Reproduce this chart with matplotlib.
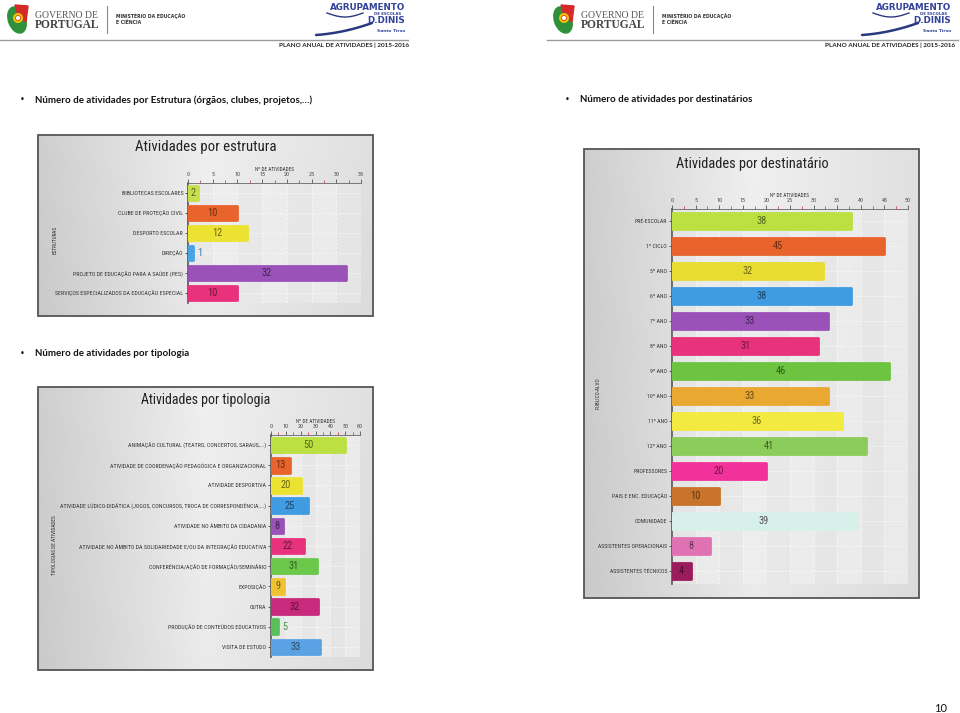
import numpy as np
import matplotlib
matplotlib.use("Agg")
import matplotlib.pyplot as plt
from matplotlib import font_manager
from matplotlib.patches import Rectangle, Ellipse, Circle, Polygon
from matplotlib.colors import to_rgb

W, H = 960, 713

# ---- data ----
estrutura_cats = ["BIBLIOTECAS ESCOLARES", "CLUBE DE PROTEÇÃO CIVIL", "DESPORTO ESCOLAR", "DIREÇÃO",
                  "PROJETO DE EDUCAÇÃO PARA A SAÚDE (PES)",
                  "SERVIÇOS ESPECIALIZADOS DA EDUCAÇÃO ESPECIAL"]
estrutura_vals = [2, 10, 12, 1, 32, 10]
estrutura_colors = ["#c6df4c", "#e8642c", "#ece232", "#4aa3e2", "#9a52b8", "#e8327c"]

tipologia_cats = ["ANIMAÇÃO CULTURAL (TEATRO, CONCERTOS, SARAUS,...)",
                  "ATIVIDADE DE COORDENAÇÃO PEDAGÓGICA E ORGANIZACIONAL",
                  "ATIVIDADE DESPORTIVA",
                  "ATIVIDADE LÚDICO-DIDÁTICA (JOGOS, CONCURSOS, TROCA DE CORRESPONDÊNCIA,...)",
                  "ATIVIDADE NO ÂMBITO DA CIDADANIA",
                  "ATIVIDADE NO ÂMBITO DA SOLIDARIEDADE E/OU DA INTEGRAÇÃO EDUCATIVA",
                  "CONFERÊNCIA/AÇÃO DE FORMAÇÃO/SEMINÁRIO",
                  "EXPOSIÇÃO", "OUTRA", "PRODUÇÃO DE CONTEÚDOS EDUCATIVOS", "VISITA DE ESTUDO"]
tipologia_vals = [50, 13, 20, 25, 8, 22, 31, 9, 32, 5, 33]
tipologia_colors = ["#bce042", "#e8642c", "#ece232", "#3f9be2", "#9a52b8", "#e8327c",
                    "#6cc84a", "#f0c232", "#c82a7c", "#58c05a", "#5aa2e4"]

destinatario_cats = ["PRÉ-ESCOLAR", "1º CICLO", "5º ANO", "6º ANO", "7º ANO", "8º ANO", "9º ANO",
                     "10º ANO", "11º ANO", "12º ANO", "PROFESSORES", "PAIS E ENC. EDUCAÇÃO",
                     "COMUNIDADE", "ASSISTENTES OPERACIONAIS", "ASSISTENTES TÉCNICOS"]
destinatario_vals = [38, 45, 32, 38, 33, 31, 46, 33, 36, 41, 20, 10, 39, 8, 4]
destinatario_colors = ["#bce042", "#e8642c", "#e8dc30", "#3f9be2", "#9a52b8", "#e8327c",
                       "#6cc440", "#eaa832", "#f2ea40", "#8ccc5a", "#f0329a", "#c8742a",
                       "#d8f0ea", "#e072b4", "#9a1c5c"]

# pick the narrowest family we actually have
installed = {f.name for f in font_manager.fontManager.ttflist}
condensed = sorted({f.name for f in font_manager.fontManager.ttflist
                    if "condensed" in str(f.stretch).lower() or "narrow" in f.name.lower()
                    or "condensed" in f.name.lower()})
pref = ["Liberation Sans Narrow", "DejaVu Sans Condensed", "Roboto Condensed",
        "Open Sans Condensed"] + condensed + ["Roboto", "Liberation Sans", "DejaVu Sans"]
NARROW_NAME = next(n for n in pref if n in installed)
NARROW = [NARROW_NAME, "DejaVu Sans"]
BODY = ["Lato", "DejaVu Sans"]

fig = plt.figure(figsize=(9.6, 7.13), dpi=100)
page = fig.add_axes([0, 0, 1, 1])
page.axis("off")
renderer = fig.canvas.get_renderer()


def px_rect(x0, y0, x1, y1):
    return [x0 / W, 1 - y1 / H, (x1 - x0) / W, (y1 - y0) / H]


def darker(c, f=0.5):
    r, g, b = to_rgb(c)
    return (r * f, g * f, b * f)


def fit_width(t, target, max_size):
    w = t.get_window_extent(renderer).width
    t.set_fontsize(min(max_size, t.get_fontsize() * target / w))


def header(dx, line_x0, line_x1, plano_right):
    # emblem
    page.add_patch(Ellipse((17 + dx, 20), 17, 27, angle=-20, color="#2f8f3a", zorder=2))
    page.add_patch(Polygon([(15 + dx, 5), (28 + dx, 6), (26 + dx, 22), (18 + dx, 15)],
                           color="#d42a2a", zorder=3))
    page.add_patch(Circle((18 + dx, 18), 5, fc="#f4c300", zorder=4))
    page.add_patch(Circle((18 + dx, 18), 2.5, fc="white", ec="#c22", lw=0.5, zorder=5))
    page.text(35 + dx, 15, "GOVERNO DE", family="Liberation Serif", fontsize=7,
              color="#555", va="center")
    page.text(35 + dx, 25, "PORTUGAL", family="Liberation Serif", fontsize=8.3,
              weight="bold", color="#444", va="center")
    page.plot([107 + dx, 107 + dx], [6, 33], color="#888", lw=0.8)
    page.text(116 + dx, 16, "MINISTÉRIO DA EDUCAÇÃO", family="DejaVu Sans", fontsize=3.3,
              weight="bold", color="#333", va="center")
    page.text(116 + dx, 22, "E CIÊNCIA", family="DejaVu Sans", fontsize=3.3,
              weight="bold", color="#333", va="center")
    blue = "#34439a"
    page.text(405 + dx, 7, "AGRUPAMENTO", family="DejaVu Sans", fontsize=6.3,
              weight="bold", color=blue, ha="right", va="center")
    page.text(401 + dx, 14, "DE ESCOLAS", family="DejaVu Sans", fontsize=2.8,
              weight="bold", color=blue, ha="right", va="center")
    page.text(405 + dx, 20.5, "D.DINIS", family="DejaVu Sans", fontsize=6.3,
              weight="bold", color=blue, ha="right", va="center")
    page.text(405 + dx, 31, "Santo Tirso", family="DejaVu Sans", fontsize=3.2,
              weight="bold", color=blue, ha="right", va="center")
    t = np.linspace(0, 1, 40)
    page.plot(316 + dx + 56 * t, 35 - 4 * t - 8 * t ** 2, color="#2a3a80", lw=1.8,
              solid_capstyle="round")
    page.plot(327 + dx + 36 * t, 13 + 4 * np.sin(np.pi * t), color="#2a3a80", lw=1.0)
    page.plot([line_x0, line_x1], [40, 40], color="#9a9a9a", lw=1.0)
    page.text(plano_right, 45, "PLANO ANUAL DE ATIVIDADES | 2015-2016", family=BODY,
              fontsize=4.6, weight="bold", color="#222", ha="right", va="center")


def panel(box):
    x0, y0, x1, y1 = box
    xs = np.linspace(0, 1, 300)
    ys = np.linspace(0, 1, 200)
    g = np.interp(xs, [0, 0.5, 1], [0.79, 0.92, 0.86])[None, :] + 0.02 * (1 - ys)[:, None]
    img = np.dstack([g, g, g])
    page.imshow(img, extent=(x0, x1, y1, y0), aspect="auto", zorder=1, interpolation="bilinear")
    page.add_patch(Rectangle((x0, y0), x1 - x0, y1 - y0, fill=False, ec="#555", lw=1.3, zorder=2))


def chart(box, cats, vals, colors, xmax, major, bar_h, title, title_xy, title_w,
          ylabel, ylabel_xy, label_w):
    ax = fig.add_axes(px_rect(*box))
    n = len(cats)
    y = np.arange(n)
    ax.set_xlim(0, xmax)
    ax.set_ylim(n - 0.5, -0.5)
    ax.set_facecolor((0.91, 0.91, 0.91, 0.75))
    for k in range(1, int(round(xmax / major)), 2):
        ax.axvspan(k * major, (k + 1) * major, color="white", alpha=0.22, zorder=0, lw=0)
    ax.grid(True, ls=(0, (3, 2)), color="#f8f8f8", lw=0.6, zorder=1)
    ax.set_axisbelow(True)

    bars = ax.barh(y, vals, height=bar_h, color=colors, edgecolor=colors, linewidth=2.0, zorder=3)
    for p in bars:
        p.set_joinstyle("round")

    ppu = (box[2] - box[0]) / xmax
    for yi, v, c in zip(y, vals, colors):
        col = "#555" if sum(to_rgb(c)) > 2.6 else darker(c, 0.45)
        if v * ppu < 9:
            ax.text(v + 4 / ppu, yi, str(v), ha="left", va="center", family=NARROW,
                    fontsize=7.5, color=darker(c, 0.75), zorder=4)
        else:
            ax.text(v / 2, yi, str(v), ha="center", va="center", family=NARROW,
                    fontsize=7.5, color=col, zorder=4)

    ax.set_yticks(y, cats, family=NARROW, fontsize=3.8, color="#333")
    ax.xaxis.tick_top()
    ax.xaxis.set_label_position("top")
    ax.set_xticks(np.arange(0, xmax + 0.1, major))
    ax.set_xticks(np.arange(major / 2, xmax, major), minor=True)
    ax.tick_params(axis="x", which="major", labelsize=4.3, labelcolor="#444", length=3,
                   width=0.6, color="#555", pad=1)
    ax.tick_params(axis="x", which="minor", length=2, width=0.6, color="#d04848")
    ax.tick_params(axis="y", length=2.5, width=0.6, color="#444", pad=1)
    for lab in ax.get_xticklabels():
        lab.set_family(NARROW)
    ax.set_xlabel("Nº DE ATIVIDADES", family=NARROW, fontsize=3.8, color="#333", labelpad=1)
    for s in ("right", "bottom"):
        ax.spines[s].set_visible(False)
    ax.spines["left"].set_color("#555")
    ax.spines["left"].set_linewidth(1.2)
    ax.spines["top"].set_color("#666")
    ax.spines["top"].set_linewidth(0.6)

    # scale the category labels so the longest one has the reference width
    labs = ax.get_yticklabels()
    widest = max(lab.get_window_extent(renderer).width for lab in labs)
    size = min(4.2, 3.8 * label_w / widest)
    ax.tick_params(axis="y", labelsize=size)

    t = page.text(title_xy[0], title_xy[1], title, family=NARROW, fontsize=11.5, color="#222",
                  ha="center", va="center", zorder=3)
    fit_width(t, title_w, 11.5)
    page.text(ylabel_xy[0], ylabel_xy[1], ylabel, family=NARROW, fontsize=3.8, color="#333",
              rotation=90, ha="center", va="center", zorder=3)
    return ax


header(0, 0, 408, 409)
header(546, 547, 958, 955)

for bx, by, txt in [(22, 100, "Número de atividades por Estrutura (órgãos, clubes, projetos,…)"),
                    (567, 100, "Número de atividades por destinatários"),
                    (22, 353, "Número de atividades por tipologia")]:
    page.text(bx, by, "•", family="DejaVu Sans", fontsize=6, ha="center", va="center")
    page.text(bx + 13, by, txt, family=BODY, fontsize=7.0, weight="bold", color="#111",
              va="center")

page.text(941, 708, "10", family=BODY, fontsize=8, color="#111", ha="center", va="center")

panel((38, 135, 373, 316))
panel((38, 387, 373, 670))
panel((584, 149, 919, 598))

page.set_xlim(0, W)
page.set_ylim(H, 0)

chart((188, 183, 361, 303), estrutura_cats, estrutura_vals, estrutura_colors, 35, 5, 0.68,
      "Atividades por estrutura", (206, 147), 141, "ESTRUTURAS", (55, 240), 127)
chart((271, 435, 360, 657), tipologia_cats, tipologia_vals, tipologia_colors, 60, 10, 0.72,
      "Atividades por tipologia", (206, 400), 131, "TIPOLOGIAS DE ATIVIDADES", (55, 545), 208)
chart((672, 208.5, 908, 583.5), destinatario_cats, destinatario_vals, destinatario_colors, 50, 5,
      0.64, "Atividades por destinatário", (752, 164), 153, "PÚBLICO-ALVO", (598, 393), 68)

fig.savefig("out.png", dpi=100)
